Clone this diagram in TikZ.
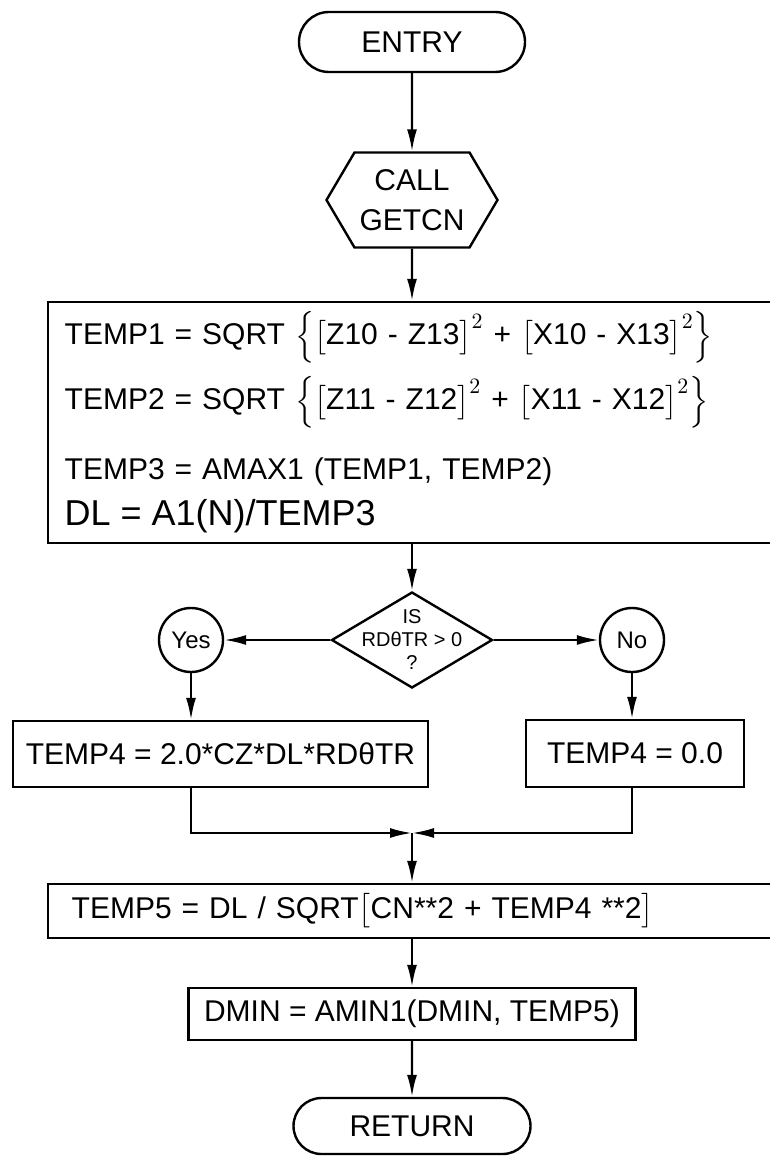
\documentclass[tikz,border=0pt]{standalone}
\usepackage{amsmath}
\usepackage{fontspec}
\setmainfont{Liberation Sans}
\usepackage{tikz}
\usetikzlibrary{arrows.meta,shapes.geometric,shapes.misc,shapes.symbols}
\tikzset{
  term/.style={draw,rounded rectangle,line width=1.2pt,minimum width=113pt,
              minimum height=30pt,inner sep=0pt},
  hexb/.style={draw,signal,signal to=east and west,signal pointer angle=119,
              line width=1.2pt,minimum width=85.5pt,minimum height=47.5pt,
              inner sep=0pt,align=center},
  blk/.style={draw,rectangle,line width=1.2pt,inner sep=0pt},
  dec/.style={draw,diamond,line width=1.2pt,minimum width=80.5pt,
              minimum height=48pt,inner sep=0pt},
  ans/.style={draw,circle,line width=1.2pt,minimum size=32pt,inner sep=0pt,
              font=\fontsize{12}{14}\selectfont},
  sig/.style={-{Latex[length=11pt,width=5pt]},line width=1.1pt}
}

\begin{document}
\begin{tikzpicture}[x=0.5pt,y=-0.5pt,every node/.style={font=\fontsize{15}{18}\selectfont}]
  \useasboundingbox (0,0) rectangle (770,1156);
  \clip (0,0) rectangle (770,1156);
  % ---- entry and call ----
  \node[term] (entry) at (412,42) {ENTRY};
  \node[hexb] (call) at (412,200) {CALL\\[2pt]GETCN};
  % ---- TEMP1..TEMP3, DL (box runs off the right edge) ----
  \node[blk,anchor=west,minimum width=376.5pt,minimum height=120.5pt,
        align=left,text width=360pt] (tmp) at (47,422.5)
    {TEMP1 = SQRT $\Bigl\{\bigl[$Z10 - Z13$\bigr]^2$ + $\bigl[$X10 - X13$\bigr]^2\Bigr\}$\\[5.5pt]
     TEMP2 = SQRT $\Bigl\{\bigl[$Z11 - Z12$\bigr]^2$ + $\bigl[$X11 - X12$\bigr]^2\Bigr\}$\\[14pt]
     TEMP3 = AMAX1 (TEMP1, TEMP2)\\[5pt]
     {\fontsize{18}{20}\selectfont DL = A1(N)/TEMP3}};
  % ---- decision ----
  \node[dec,label={[align=center,font=\fontsize{10}{11.5}\selectfont]center:IS\\RDθTR > 0\\?}] (dec) at (412,640) {};
  \node[ans] (yes) at (191,640) {Yes};
  \node[ans] (no) at (632,640) {No};
  \node[blk,minimum width=207.5pt,minimum height=33pt] (l4) at (220.5,754) {TEMP4 = 2.0*CZ*DL*RDθTR};
  \node[blk,minimum width=109pt,minimum height=33.5pt] (r4) at (635,753.5) {TEMP4 = 0.0};
  \coordinate (mrg) at (412,833);
  % ---- TEMP5, DMIN, return ----
  \node[blk,anchor=west,minimum width=376.5pt,minimum height=27pt,
        align=left,text width=353pt] (t5) at (47,911)
    {TEMP5 = DL / SQRT$\bigl[$CN**2 + TEMP4 **2$\bigr]$};
  \node[blk,minimum width=223.5pt,minimum height=26pt] (dmin) at (412,1014) {DMIN = AMIN1(DMIN, TEMP5)};
  \node[term,minimum width=118.5pt,minimum height=28pt] (ret) at (412,1126) {RETURN};
  % wires
  \draw[sig] (entry) -- (call);
  \draw[sig] (call) -- (call |- tmp.north);
  \draw[sig] (dec |- tmp.south) -- (dec);
  \draw[sig] (dec) -- (yes);
  \draw[sig] (dec) -- (no);
  \draw[sig] (yes) -- (yes |- l4.north);
  \draw[sig] (no) -- (no |- r4.north);
  \draw[sig] (yes |- l4.south) |- (mrg);
  \draw[sig] (no |- r4.south) |- (mrg);
  \draw[sig] (mrg) -- (mrg |- t5.north);
  \draw[sig] (dmin |- t5.south) -- (dmin);
  \draw[sig] (dmin) -- (ret);
\end{tikzpicture}
\end{document}
